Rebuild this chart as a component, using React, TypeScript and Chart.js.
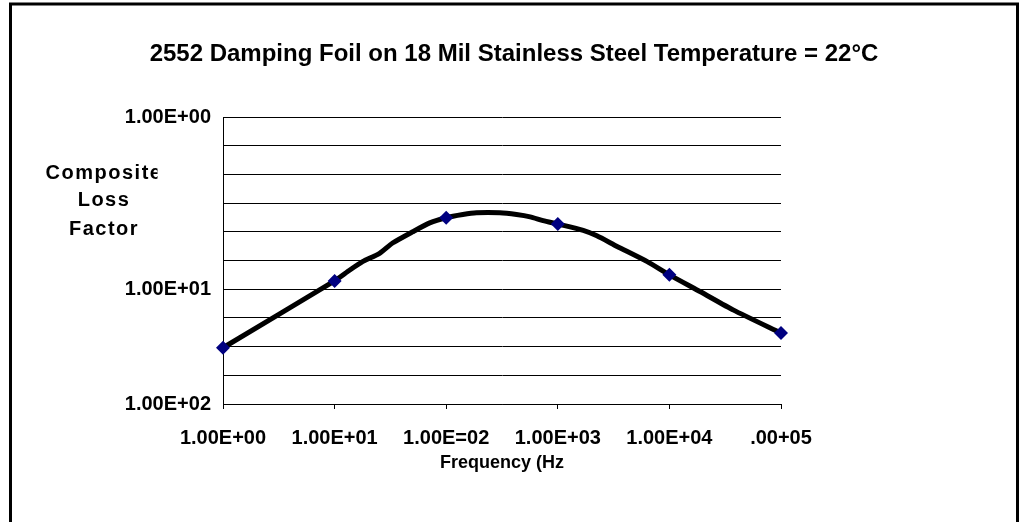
import React, { useEffect, useRef } from "react";
import { Chart, registerables } from "chart.js";

Chart.register(...registerables);

const chartTitle = "2552 Damping Foil on 18 Mil Stainless Steel Temperature = 22°C";
const yTitleLines = ["Composite", "Loss", "Factor"];
const xTitle = "Frequency (Hz";

// x tick values (Hz) and their printed labels (as in the original)
const xTickValues = [1, 10, 100, 1000, 10000, 100000];
const xTickLabels = ["1.00E+00", "1.00E+01", "1.00E=02", "1.00E+03", "1.00E+04", ".00+05"];

// y axis: 10 equal grid steps; labelled positions
const yTickValues = [0, 1, 2, 3, 4, 5, 6, 7, 8, 9, 10];
const yLabelAt: Record<number, string> = { 10: "1.00E+00", 4: "1.00E+01", 0: "1.00E+02" };

// measured points (diamonds)
const markerFreq = [1, 10, 100, 1000, 10000, 100000];
const markerLoss = [1.96, 4.29, 6.49, 6.27, 4.5, 2.47];

// smooth curve
const curveFreq = [1, 10, 13.6, 17.8, 25.3, 33.1, 50, 71.2, 100, 141, 187, 302, 427, 565, 739, 1000, 1690, 2240, 3400, 6330, 10000, 19000, 37600, 100000];
const curveLoss = [1.96, 4.29, 4.66, 4.96, 5.25, 5.61, 6.0, 6.31, 6.49, 6.6, 6.66, 6.66, 6.6, 6.52, 6.39, 6.27, 6.05, 5.86, 5.49, 4.96, 4.5, 3.91, 3.27, 2.47];

const FONT = "Arial, 'Liberation Sans', sans-serif";

const framePlugin = {
  id: "frame",
  afterDraw(chart: any) {
    const ctx = chart.ctx;
    ctx.save();
    ctx.strokeStyle = "#000";
    ctx.lineWidth = 3;
    ctx.strokeRect(10.5, 4, 1007, 540);
    // y-axis title (horizontal, clipped like the original)
    ctx.beginPath();
    ctx.rect(0, 0, 157.5, 522);
    ctx.clip();
    ctx.fillStyle = "#000";
    ctx.font = `bold 20px ${FONT}`;
    (ctx as any).letterSpacing = "1.5px";
    ctx.textAlign = "center";
    ctx.textBaseline = "alphabetic";
    const baselines = [178.5, 206, 234.5];
    yTitleLines.forEach((t, i) => ctx.fillText(t, 104, baselines[i]));
    ctx.restore();
  },
};

export default function App() {
  const ref = useRef<HTMLCanvasElement>(null);
  useEffect(() => {
    if (!ref.current) return;
    const chart = new Chart(ref.current, {
      type: "scatter",
      data: {
        datasets: [
          {
            type: "scatter",
            label: "measured",
            data: markerFreq.map((f, i) => ({ x: f, y: markerLoss[i] })),
            pointStyle: "rectRot",
            pointRadius: 7,
            pointBackgroundColor: "#000080",
            pointBorderColor: "#000080",
            pointBorderWidth: 0,
            clip: false as any,
          },
          {
            type: "line",
            label: "curve",
            data: curveFreq.map((f, i) => ({ x: f, y: curveLoss[i] })),
            borderColor: "#000",
            borderWidth: 5,
            pointRadius: 0,
            tension: 0.2,
            fill: false,
          },
        ],
      },
      options: {
        animation: false,
        responsive: false,
        layout: { padding: { left: 7, right: 0, top: 0, bottom: 0 } },
        plugins: {
          legend: { display: false },
          tooltip: { enabled: false },
          title: {
            display: true,
            text: chartTitle,
            color: "#000",
            font: { family: FONT, size: 24, weight: "bold" },
            padding: { top: 40, bottom: 48.2 },
          },
        },
        scales: {
          x: {
            type: "logarithmic",
            min: 1,
            max: 100000,
            afterBuildTicks: (s: any) => {
              s.ticks = xTickValues.map((v) => ({ value: v }));
            },
            afterFit: (s: any) => {
              s.height = 118;
            },
            ticks: {
              color: "#000",
              font: { family: FONT, size: 20, weight: "bold" },
              padding: 17,
              maxRotation: 0,
              autoSkip: false,
              callback: (v: any) => {
                const i = xTickValues.indexOf(Number(v));
                return i >= 0 ? xTickLabels[i] : "";
              },
            },
            grid: { drawOnChartArea: false, drawTicks: true, tickLength: 5, color: "#000", lineWidth: 1 },
            border: { display: true, color: "#000", width: 1 },
            title: {
              display: true,
              text: xTitle,
              color: "#000",
              font: { family: FONT, size: 18, weight: "bold" },
              padding: { top: 0, bottom: 48 },
            },
          },
          y: {
            type: "linear",
            min: 0,
            max: 10,
            afterBuildTicks: (s: any) => {
              s.ticks = yTickValues.map((v) => ({ value: v }));
            },
            afterFit: (s: any) => {
              s.width = 216;
            },
            ticks: {
              color: "#000",
              font: { family: FONT, size: 20, weight: "bold" },
              padding: 12,
              autoSkip: false,
              callback: (v: any) => yLabelAt[Number(v)] ?? "",
            },
            grid: { color: "#000", lineWidth: 1, drawTicks: false },
            border: { display: true, color: "#000", width: 1 },
          },
          y2: {
            type: "linear",
            position: "right",
            min: 0,
            max: 1,
            afterFit: (s: any) => {
              s.width = 240;
            },
            ticks: { display: false },
            grid: { display: false },
            border: { display: false },
          },
        },
      },
      plugins: [framePlugin],
    });
    return () => chart.destroy();
  }, []);
  return (
    <div style={{ position: "absolute", left: 0, top: 0, width: 1021, height: 522, background: "#fff" }}>
      <canvas ref={ref} width={1021} height={522} />
    </div>
  );
}
